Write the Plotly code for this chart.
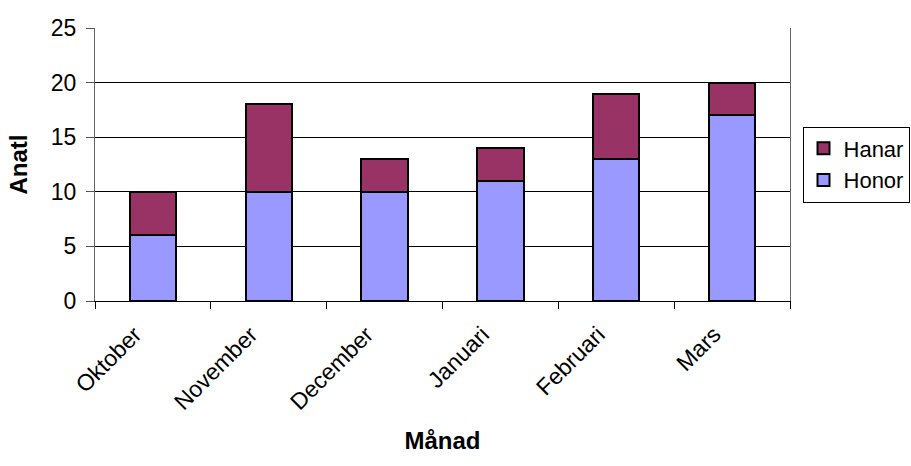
import plotly.graph_objects as go

months = ["Oktober", "November", "December", "Januari", "Februari", "Mars"]
honor = [6, 10, 10, 11, 13, 17]
hanar = [4, 8, 3, 3, 6, 3]

fig = go.Figure()
fig.add_trace(go.Bar(x=months, y=honor, name="Honor",
                     marker=dict(color="#9999FF", line=dict(color="black", width=2))))
fig.add_trace(go.Bar(x=months, y=hanar, name="Hanar",
                     marker=dict(color="#993366", line=dict(color="black", width=2))))

font = dict(family="Liberation Sans, Arial, sans-serif", size=23, color="black")

fig.update_layout(
    barmode="stack",
    bargap=0.6,
    width=911, height=466,
    margin=dict(l=95, r=121, t=28, b=165, autoexpand=False),
    plot_bgcolor="white",
    paper_bgcolor="white",
    font=font,
    showlegend=True,
    legend=dict(x=1.018, xanchor="left", y=0.5, yanchor="middle",
                traceorder="reversed", bordercolor="black", borderwidth=1,
                font=dict(size=22), itemwidth=30, tracegroupgap=0,
                bgcolor="white"),
)
fig.update_xaxes(
    type="category",
    tickangle=-45,
    ticks="outside", ticklen=7, tickcolor="black",
    tickson="boundaries",
    ticklabelstandoff=10, ticklabelshift=-18,
    showline=True, linecolor="black", linewidth=1,
    showgrid=False,
    automargin=False,
    title=dict(text="<b>Månad</b>", font=dict(size=24), standoff=18),
)
fig.update_yaxes(
    range=[0, 25], dtick=5,
    ticks="outside", ticklen=8, tickcolor="#555555",
    ticklabelstandoff=5,
    showline=True, linecolor="#666666", linewidth=1, mirror=True,
    showgrid=True, gridcolor="black", gridwidth=1,
    zeroline=False,
    automargin=False,
    title=dict(text="<b>Anatl</b>", font=dict(size=24), standoff=16),
)

fig.write_html("out.html")
